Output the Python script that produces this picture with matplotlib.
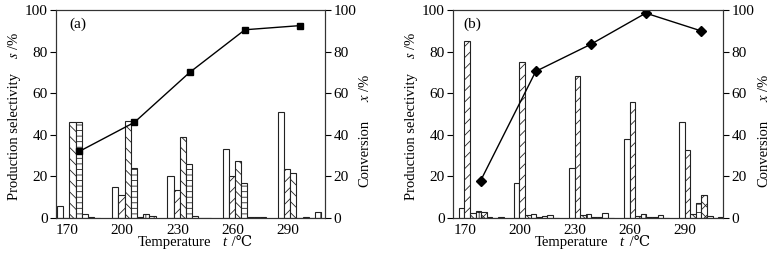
import matplotlib
matplotlib.use("Agg")
import matplotlib.pyplot as plt
import numpy as np

plt.rcParams['font.family'] = ['Liberation Serif', 'DejaVu Serif']
plt.rcParams['mathtext.fontset'] = 'stix'
plt.rcParams['hatch.linewidth'] = 0.6

temps = [170, 200, 230, 260, 290]
tick_labels = ['170', '200', '230', '260', '290']

# (a) selectivity, 7 products per temperature
sel_a = [
    [6, 0, 46, 46, 2, 0.3, 0],
    [15, 11, 46.5, 24, 0.3, 2, 1],
    [20, 13.5, 39, 26, 1, 0, 0],
    [33, 20, 27.5, 17, 0.5, 0.3, 0.7],
    [51, 23.5, 21.5, 0, 0.5, 0, 3],
]
conv_a = [32, 46, 70, 90.5, 92.5]

# (b) selectivity, 8 products per temperature
sel_b = [
    [5, 85, 2.5, 3.5, 3, 0.5, 0, 0.5],
    [17, 75, 1.5, 2, 0.5, 1, 1.5, 0],
    [24, 68.5, 1.5, 2, 0.5, 0.5, 2.3, 0],
    [38, 56, 1, 2, 0.5, 0.5, 1.5, 0],
    [46, 32.5, 2, 7, 11, 1, 0, 0.3],
]
conv_b = [18, 70.5, 83.5, 98.5, 90]

hatches_a = ['', '///', '\\\\\\', '---', '', '++', '++']
hatches_b = ['', '///', '\\\\\\', '++', 'xxx', '', '', '']

FAM = ['Liberation Serif', 'DejaVu Serif']
fig = plt.figure(figsize=(7.83, 2.61), dpi=100)


def rot_label(ax, x, y_main, y_var, main, var, fs=10.5):
    ax.text(x, y_main, main, transform=ax.transAxes, rotation=90,
            ha='center', va='center', fontsize=fs, family=FAM)
    ax.text(x, y_var, var, transform=ax.transAxes, rotation=90,
            ha='center', va='center', fontsize=fs, family=FAM)


def panel(rect, sel, conv, hatches, first_off, width, conv_off, marker, msize,
          label, label_x, xlim, ylab_x, ylab2_x):
    ax = fig.add_axes(rect)
    sel = np.array(sel)
    t = np.array(temps, dtype=float)
    for j in range(sel.shape[1]):
        ax.bar(t + first_off + j * width, sel[:, j], width=width, align='edge',
               facecolor='white', edgecolor='#222222', linewidth=0.8,
               hatch=hatches[j])
    ax.set_xlim(*xlim)
    ax.set_ylim(0, 100)
    ax.set_yticks([0, 20, 40, 60, 80, 100])
    ax.set_xticks(temps)
    ax.set_xticklabels(tick_labels)
    ax.tick_params(axis='x', length=0, labelsize=11, pad=4)
    ax.tick_params(axis='y', direction='out', length=4, labelsize=11, pad=2)
    # x label pieces
    ax.text(0.44, -0.12, 'Temperature', transform=ax.transAxes, ha='center',
            va='center', fontsize=10.5, family=FAM)
    ax.text(0.625, -0.12, 't', transform=ax.transAxes, ha='center',
            va='center', fontsize=10.5, family=FAM, style='italic')
    ax.text(0.64, -0.12, ' /\u2103', transform=ax.transAxes, ha='left',
            va='center', fontsize=10.5, family=FAM)
    # left y label
    rot_label(ax, ylab_x, 0.39, 0.83, 'Production selectivity', '$s$ /%')
    ax.text(label_x, 0.93, label, transform=ax.transAxes, fontsize=11,
            va='center', ha='left')
    for s in ax.spines.values():
        s.set_linewidth(0.8)
        s.set_color('#333333')
    ax2 = ax.twinx()
    ax2.plot(t + conv_off, conv, color='black', lw=1.0, marker=marker,
             markersize=msize, markerfacecolor='black', markeredgecolor='black')
    ax2.set_ylim(0, 100)
    ax2.set_yticks([0, 20, 40, 60, 80, 100])
    ax2.tick_params(axis='y', direction='out', length=4, labelsize=11, pad=2)
    rot_label(ax2, ylab2_x, 0.31, 0.625, 'Conversion', '$x$ /%')
    for s in ax2.spines.values():
        s.set_linewidth(0.8)
        s.set_color('#333333')
    return ax


panel([56/783, 43/261, 269/783, 208/261], sel_a, conv_a, hatches_a,
      -5.5, 3.37, 6.6, 's', 5, '(a)', 0.05, (164.0, 310.1), -0.155, 1.15)
panel([453/783, 43/261, 270/783, 208/261], sel_b, conv_b, hatches_b,
      -3.3, 3.05, 8.6, 'D', 5, '(b)', 0.04, (163.5, 310.7), -0.155, 1.15)

fig.savefig('out.png', dpi=100)
